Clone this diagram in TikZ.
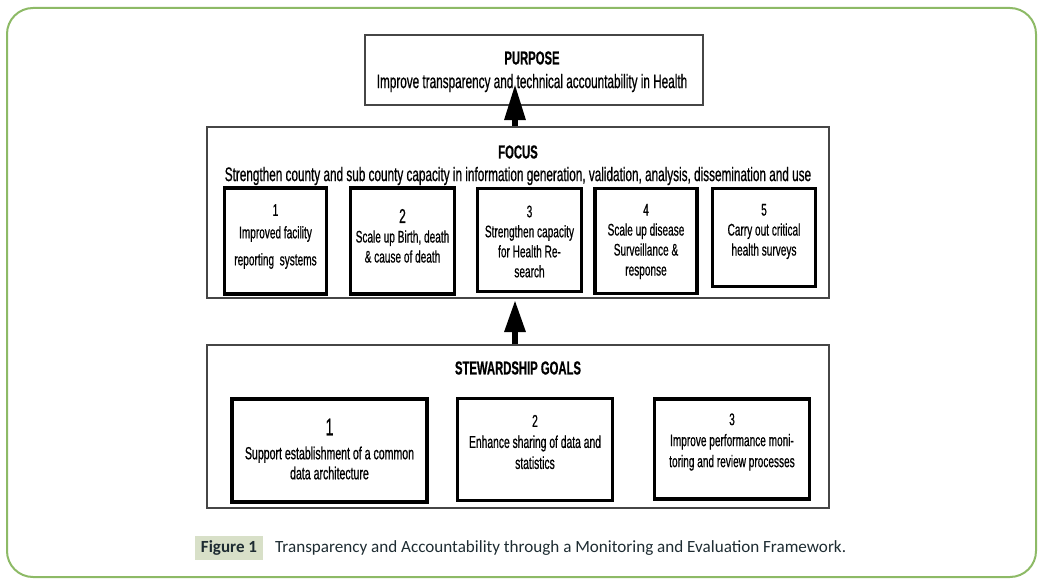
\documentclass[tikz,border=0pt]{standalone}
\usepackage{fontspec}
\setmainfont{Liberation Sans}
\newfontfamily\nar[FakeStretch=0.6,FakeBold=0.6]{Liberation Sans}
\newfontfamily\capfont{Carlito}
\usetikzlibrary{arrows.meta}
\definecolor{framegreen}{RGB}{141,186,102}
\definecolor{capbox}{RGB}{216,224,200}
\definecolor{capdark}{RGB}{30,44,50}
\definecolor{boxgray}{RGB}{70,70,70}
\tikzset{
  outerbox/.style={draw=boxgray, line width=1.3pt, fill=white, rectangle, inner sep=0pt},
  innerbox/.style={draw=black, line width=3.6pt, fill=white, rectangle, inner sep=0pt},
  smalltxt/.style={font=\nar\fontsize{16.8}{20}\selectfont, align=center, inner sep=0pt},
  bigtxt/.style={font=\nar\fontsize{19.6}{20}\selectfont, align=center, inner sep=0pt},
  boldtxt/.style={font=\nar\bfseries\fontsize{18.8}{20}\selectfont, align=center, inner sep=0pt},
  bigarrow/.style={line width=6pt, -{Triangle[length=#1pt, width=20pt]}},
}
\begin{document}
\begin{tikzpicture}[x=1pt,y=-1pt]
\useasboundingbox (0,0) rectangle (1042,586);
% frame
\draw[framegreen, line width=2pt, rounded corners=26pt] (7,8) rectangle (1036,577);

% purpose
\node[outerbox, minimum width=338pt, minimum height=70pt] (purpose) at (534,70) {};
\node[boldtxt] (ptitle) at (532,58) {PURPOSE};
\node[bigtxt] (ptext) at (532,83) {Improve transparency and technical accountability in Health};

% focus
\node[outerbox, minimum width=622pt, minimum height=171pt] (focus) at (518,212.5) {};
\node[boldtxt] (ftitle) at (518,152) {FOCUS};
\node[bigtxt] (ftext) at (518,176) {Strengthen county and sub county capacity in information generation, validation, analysis, dissemination and use};

\node[innerbox, minimum width=102pt, minimum height=106pt] (f1) at (275.5,241) {};
\node[innerbox, minimum width=104pt, minimum height=106pt] (f2) at (402.5,241) {};
\node[innerbox, minimum width=104pt, minimum height=103pt] (f3) at (529.5,240) {};
\node[innerbox, minimum width=102pt, minimum height=105pt] (f4) at (646,241) {};
\node[innerbox, minimum width=103pt, minimum height=98pt] (f5) at (764,237.5) {};

\node[smalltxt] (f1a) at (275.5,210) {1};
\node[smalltxt] (f1b) at (275.5,234) {Improved facility};
\node[smalltxt] (f1c) at (275.5,261) {reporting\, systems};
\node[smalltxt] (f2a) at (402.5,216) {\fontsize{20}{20}\selectfont 2};
\node[smalltxt] (f2b) at (402.5,246.5) {Scale up Birth, death\\\& cause of death};
\node[smalltxt] (f3) at (529.5,241.5) {3\\Strengthen capacity\\for Health Re-\\search};
\node[smalltxt] (f4) at (646,241.5) {4\\Scale up disease\\Surveillance \&\\response};
\node[smalltxt] (f5) at (764,231.5) {5\\Carry out critical\\health surveys};

% stewardship
\node[outerbox, minimum width=622pt, minimum height=163pt] (stew) at (518,426.5) {};
\node[boldtxt] (stitle) at (518,368) {STEWARDSHIP GOALS};
\node[innerbox, minimum width=195pt, minimum height=103pt] (s1) at (329.5,450.5) {};
\node[innerbox, minimum width=155pt, minimum height=102pt] (s2) at (535,449.5) {};
\node[innerbox, minimum width=155pt, minimum height=100pt] (s3) at (732,449) {};
\node[bigtxt] (s1a) at (329.5,427) {\fontsize{24}{24}\selectfont 1};
\node[bigtxt, font=\nar\fontsize{17.6}{20}\selectfont] (s1b) at (329.5,463) {Support establishment of a common\\data architecture};
\node[bigtxt, font=\nar\fontsize{17.2}{21}\selectfont] (s2t) at (535,442) {2\\Enhance sharing of data and\\statistics};
\node[bigtxt, font=\nar\fontsize{16.8}{21}\selectfont] (s3t) at (732,442) {3\\Improve performance moni-\\toring and review processes};

% arrows
\coordinate (ptip) at (515,84);
\coordinate (ftip) at (515,300);
\draw[bigarrow=36] (focus.north -| ptip) -- (ptip);
\draw[bigarrow=32] (stew.north -| ftip) -- (ftip);

% caption
\node[fill=capbox, minimum width=68pt, minimum height=24pt, inner sep=0pt, text=capdark, font=\capfont\bfseries\fontsize{17}{18}\selectfont] (fig) at (229,548) {Figure 1};
\node[anchor=west, inner sep=0pt, text=capdark, font=\capfont\fontsize{17.1}{18}\selectfont] (cap) at (275,548) {Transparency and Accountability through a Monitoring and Evaluation Framework.};
\end{tikzpicture}
\end{document}
